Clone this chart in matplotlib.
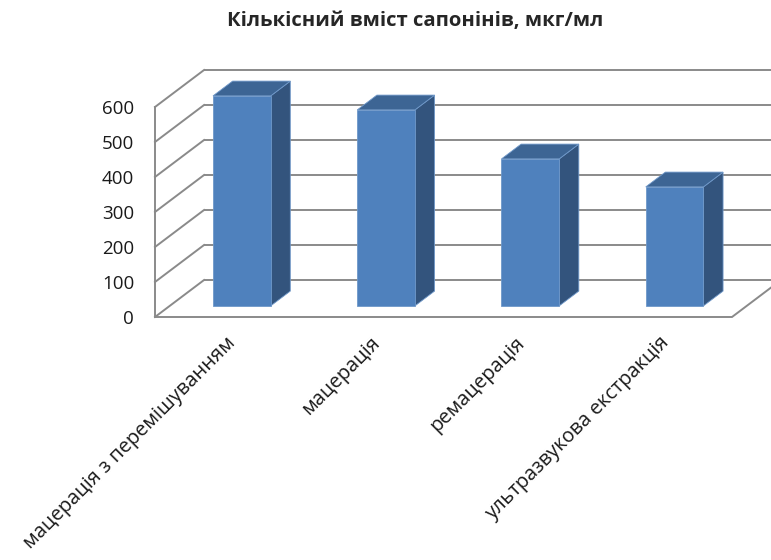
import matplotlib.pyplot as plt
from matplotlib.patches import Polygon
from matplotlib.transforms import offset_copy

plt.rcParams["font.family"] = ["Open Sans", "DejaVu Sans"]

# chart data
categories = [
    "мацерація з перемішуванням",
    "мацерація",
    "ремацерація",
    "ультразвукова екстракція",
]
values = [600, 560, 420, 340]
y_ticks = [0, 100, 200, 300, 400, 500, 600]
title = "Кількісний вміст сапонінів, мкг/мл"

# pseudo-3D geometry (data units of the front plane)
DEPTH_DX = 0.34      # shift along x per unit depth, in category units
DEPTH_DY = 105.7     # shift along y per unit depth, in value units
BAR_WIDTH = 0.4
BAR_DEPTH = (0.3, 0.7)

GRID_COLOR = "#8a8a8a"
GRID_LW = 1.4
FRONT_COLOR = "#4f81bd"
TOP_COLOR = "#3d6594"
SIDE_COLOR = "#33547d"
EDGE_COLOR = "#6f98c9"


def project(x, y, depth):
    return x + depth * DEPTH_DX, y + depth * DEPTH_DY


def draw_walls(ax, n, ymax):
    x0, x1 = -0.5, n - 0.5
    # back wall gridlines
    for t in y_ticks:
        bx0, by = project(x0, t, 1)
        bx1, _ = project(x1, t, 1)
        ax.plot([bx0, bx1 + 0.2], [by, by], color=GRID_COLOR, lw=GRID_LW,
                clip_on=False, zorder=1, solid_capstyle="butt")
    # left wall diagonals
    for t in y_ticks:
        bx, by = project(x0, t, 1)
        ax.plot([x0, bx], [t, by], color=GRID_COLOR, lw=GRID_LW,
                clip_on=False, zorder=1)
    ax.plot([x0, x0], [0, ymax], color=GRID_COLOR, lw=GRID_LW,
            clip_on=False, zorder=1)
    # floor front and right edges
    rx, ry = project(x1, 0, 1)
    ax.plot([x0, x1, rx], [0, 0, ry], color=GRID_COLOR, lw=GRID_LW,
            clip_on=False, zorder=1, solid_joinstyle="miter")


def draw_bar(ax, x, v):
    d0, d1 = BAR_DEPTH
    xl, xr = x - BAR_WIDTH / 2, x + BAR_WIDTH / 2
    side = [project(xr, 0, d0), project(xr, 0, d1),
            project(xr, v, d1), project(xr, v, d0)]
    top = [project(xl, v, d0), project(xr, v, d0),
           project(xr, v, d1), project(xl, v, d1)]
    front = [project(xl, 0, d0), project(xr, 0, d0),
             project(xr, v, d0), project(xl, v, d0)]
    for pts, fc in ((side, SIDE_COLOR), (top, TOP_COLOR), (front, FRONT_COLOR)):
        ax.add_patch(Polygon(pts, closed=True, facecolor=fc, edgecolor=EDGE_COLOR,
                             lw=0.6, zorder=3, clip_on=False))


fig = plt.figure(figsize=(7.71, 5.60), dpi=100)
ax = fig.add_axes([155 / 771, (560 - 317) / 560, 577 / 771, 210 / 560])
n = len(categories)
ax.set_xlim(-0.5, n - 0.5)
ax.set_ylim(0, y_ticks[-1])
for s in ax.spines.values():
    s.set_visible(False)

draw_walls(ax, n, y_ticks[-1])
for i, v in enumerate(values):
    draw_bar(ax, i, v)

ax.set_xticks([])
ax.set_yticks(y_ticks)
ax.set_yticklabels([str(t) for t in y_ticks], fontsize=13.5, color="#1a1a1a")
ax.tick_params(axis="y", length=0, pad=15)

# rotated category labels under the floor
label_tf = offset_copy(ax.get_xaxis_transform(), fig=fig, x=13, y=-16, units="dots")
for i, name in enumerate(categories):
    ax.text(i, 0, name, transform=label_tf, rotation=45, ha="right", va="top",
            fontsize=14.4, color="#1a1a1a")

fig.text(0.538, 0.962, title, ha="center", va="center", fontsize=14.6,
         fontweight="bold", color="#262626")

fig.savefig("out.png", dpi=100)
